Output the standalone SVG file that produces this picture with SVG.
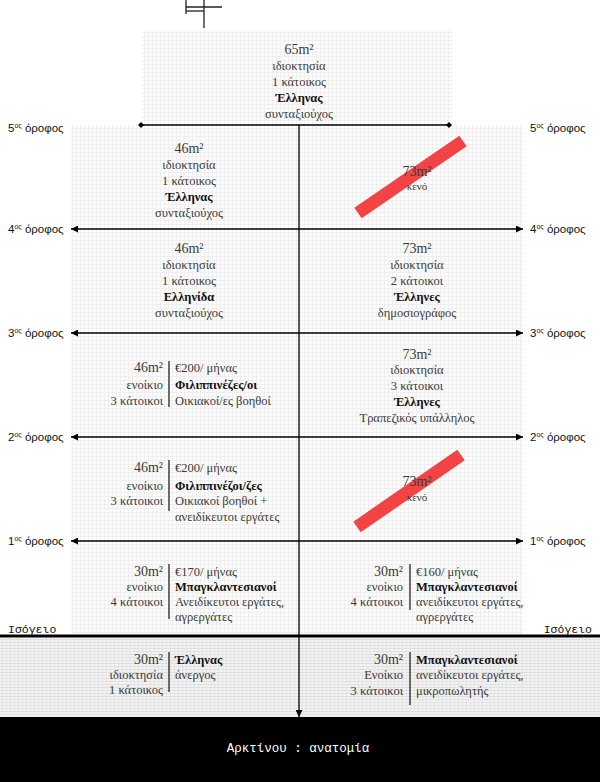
<svg xmlns="http://www.w3.org/2000/svg" width="600" height="782" viewBox="0 0 600 782">
<defs>
<pattern id="grid" width="4" height="4" patternUnits="userSpaceOnUse">
<rect width="4" height="4" fill="#fdfdfd"/>
<path d="M0 0.5H4M0.5 0V4" stroke="#efefef" stroke-width="1"/>
</pattern>
<pattern id="base" width="4" height="3" patternUnits="userSpaceOnUse">
<rect width="4" height="3" fill="#f3f3f3"/>
<path d="M0 0.5H4" stroke="#e0e0e0" stroke-width="1"/>
<rect x="2" y="1" width="1" height="2" fill="#e6e6e6"/>
</pattern>
<marker id="arr" viewBox="0 0 10 10" refX="10" refY="5" markerWidth="7" markerHeight="7" markerUnits="userSpaceOnUse" orient="auto-start-reverse">
<path d="M0 0L10 5L0 10Z" fill="#000"/>
</marker>
<marker id="dia" viewBox="0 0 10 10" refX="5" refY="5" markerWidth="6" markerHeight="6" markerUnits="userSpaceOnUse" orient="auto">
<path d="M5 0L10 5L5 10L0 5Z" fill="#000"/>
</marker>
<style>
.t{font-family:"Liberation Serif","Times New Roman",serif;font-size:12.5px;fill:#3a3a3a}
.n{font-size:14px}
.b{font-weight:bold;fill:#111}
.m{text-anchor:middle}
.e{text-anchor:end}
.s{font-size:11px}
.fl{font-family:"Liberation Sans",Arial,sans-serif;font-size:11.5px;fill:#111}
.sup{font-size:7px}
.iso{font-family:"Liberation Mono","Courier New",monospace;font-size:11.5px;fill:#111}
.ln{stroke:#000;stroke-width:1.3;fill:none}
.sep{stroke:#222;stroke-width:1.3}
.red{stroke:#f24444;stroke-width:13;stroke-linecap:butt}
</style>
</defs>

<g id="backgrounds">
<rect x="142" y="30" width="310" height="95" fill="url(#grid)"/>
<rect x="71" y="125" width="452" height="511" fill="url(#grid)"/>
<rect x="0" y="638" width="600" height="79" fill="url(#base)"/>
</g>

<g id="antenna" stroke="#222" stroke-width="1.3">
<line x1="204" y1="0" x2="204" y2="28"/>
<line x1="186" y1="0" x2="186" y2="14"/>
<line x1="186" y1="7" x2="222" y2="7"/>
<line x1="186" y1="11" x2="204" y2="11"/>
</g>

<g id="connectors">
<line class="ln" x1="141" y1="125" x2="449" y2="125" marker-start="url(#dia)" marker-end="url(#dia)"/>
<line class="ln" x1="71" y1="229" x2="523" y2="229" marker-start="url(#arr)" marker-end="url(#arr)"/>
<line class="ln" x1="71" y1="333" x2="523" y2="333" marker-start="url(#arr)" marker-end="url(#arr)"/>
<line class="ln" x1="71" y1="437" x2="523" y2="437" marker-start="url(#arr)" marker-end="url(#arr)"/>
<line class="ln" x1="71" y1="541" x2="523" y2="541" marker-start="url(#arr)" marker-end="url(#arr)"/>
<line x1="0" y1="636" x2="600" y2="636" stroke="#000" stroke-width="3"/>
<line class="ln" x1="299" y1="125" x2="299" y2="717" marker-end="url(#arr)"/>
</g>

<g id="floor-labels">
<text class="fl" x="8" y="132">5<tspan class="sup" dy="-4">ος</tspan><tspan dy="4"> όροφος</tspan></text>
<text class="fl" x="530" y="132">5<tspan class="sup" dy="-4">ος</tspan><tspan dy="4"> όροφος</tspan></text>
<text class="fl" x="8" y="233">4<tspan class="sup" dy="-4">ος</tspan><tspan dy="4"> όροφος</tspan></text>
<text class="fl" x="530" y="233">4<tspan class="sup" dy="-4">ος</tspan><tspan dy="4"> όροφος</tspan></text>
<text class="fl" x="8" y="337">3<tspan class="sup" dy="-4">ος</tspan><tspan dy="4"> όροφος</tspan></text>
<text class="fl" x="530" y="337">3<tspan class="sup" dy="-4">ος</tspan><tspan dy="4"> όροφος</tspan></text>
<text class="fl" x="8" y="441">2<tspan class="sup" dy="-4">ος</tspan><tspan dy="4"> όροφος</tspan></text>
<text class="fl" x="530" y="441">2<tspan class="sup" dy="-4">ος</tspan><tspan dy="4"> όροφος</tspan></text>
<text class="fl" x="8" y="545">1<tspan class="sup" dy="-4">ος</tspan><tspan dy="4"> όροφος</tspan></text>
<text class="fl" x="530" y="545">1<tspan class="sup" dy="-4">ος</tspan><tspan dy="4"> όροφος</tspan></text>
<text class="iso" x="8" y="633">Ισόγειο</text>
<text class="iso e" x="592" y="633">Ισόγειο</text>
</g>

<g id="apt-6">
<text class="t n m" x="299" y="54">65m²</text>
<text class="t m" x="299" y="70">ιδιοκτησία</text>
<text class="t m" x="299" y="86">1 κάτοικος</text>
<text class="t m b" x="299" y="102">Έλληνας</text>
<text class="t m" x="299" y="118">συνταξιούχος</text>
</g>

<g id="apt-5-left">
<text class="t n m" x="189" y="153">46m²</text>
<text class="t m" x="189" y="169">ιδιοκτησία</text>
<text class="t m" x="189" y="185">1 κάτοικος</text>
<text class="t m b" x="189" y="201">Έλληνας</text>
<text class="t m" x="189" y="217">συνταξιούχος</text>
</g>

<g id="apt-5-right">
<line class="red" x1="358" y1="213" x2="463" y2="141"/>
<text class="t n m" x="417" y="176">73m²</text>
<text class="t m s" x="417" y="190">κενό</text>
</g>

<g id="apt-4-left">
<text class="t n m" x="189" y="253">46m²</text>
<text class="t m" x="189" y="269">ιδιοκτησία</text>
<text class="t m" x="189" y="285">1 κάτοικος</text>
<text class="t m b" x="189" y="301">Ελληνίδα</text>
<text class="t m" x="189" y="317">συνταξιούχος</text>
</g>

<g id="apt-4-right">
<text class="t n m" x="417" y="253">73m²</text>
<text class="t m" x="417" y="269">ιδιοκτησία</text>
<text class="t m" x="417" y="285">2 κάτοικοι</text>
<text class="t m b" x="417" y="301">Έλληνες</text>
<text class="t m" x="417" y="317">δημοσιογράφος</text>
</g>

<g id="apt-3-left">
<text class="t n e" x="163" y="372">46m²</text>
<text class="t e" x="163" y="389">ενοίκιο</text>
<text class="t e" x="163" y="405">3 κάτοικοι</text>
<line class="sep" x1="169" y1="361" x2="169" y2="407"/>
<text class="t" x="175" y="372">€200/ μήνας</text>
<text class="t b" x="175" y="389">Φιλιππινέζες/οι</text>
<text class="t" x="175" y="405">Οικιακοί/ες βοηθοί</text>
</g>

<g id="apt-3-right">
<text class="t n m" x="417" y="359">73m²</text>
<text class="t m" x="417" y="374">ιδιοκτησία</text>
<text class="t m" x="417" y="390">3 κάτοικοι</text>
<text class="t m b" x="417" y="406">Έλληνες</text>
<text class="t m" x="417" y="422">Τραπεζικός υπάλληλος</text>
</g>

<g id="apt-2-left">
<text class="t n e" x="163" y="472">46m²</text>
<text class="t e" x="163" y="490">ενοίκιο</text>
<text class="t e" x="163" y="505">3 κάτοικοι</text>
<line class="sep" x1="169" y1="460" x2="169" y2="511"/>
<text class="t" x="175" y="472">€200/ μήνας</text>
<text class="t b" x="175" y="490">Φιλιππινέζοι/ζες</text>
<text class="t" x="175" y="505">Οικιακοί βοηθοί +</text>
<text class="t" x="175" y="521">ανειδίκευτοι εργάτες</text>
</g>

<g id="apt-2-right">
<line class="red" x1="357" y1="527" x2="461" y2="455"/>
<text class="t n m" x="417" y="486">73m²</text>
<text class="t m s" x="417" y="501">κενό</text>
</g>

<g id="apt-1-left">
<text class="t n e" x="163" y="576">30m²</text>
<text class="t e" x="163" y="591">ενοίκιο</text>
<text class="t e" x="163" y="606">4 κάτοικοι</text>
<line class="sep" x1="169" y1="564" x2="169" y2="619"/>
<text class="t" x="175" y="576">€170/ μήνας</text>
<text class="t b" x="175" y="591">Μπαγκλαντεσιανοί</text>
<text class="t" x="175" y="606">Ανειδίκευτοι εργάτες,</text>
<text class="t" x="175" y="621">αγρεργάτες</text>
</g>

<g id="apt-1-right">
<text class="t n e" x="403" y="576">30m²</text>
<text class="t e" x="403" y="591">ενοίκιο</text>
<text class="t e" x="403" y="606">4 κάτοικοι</text>
<line class="sep" x1="410" y1="564" x2="410" y2="610"/>
<text class="t" x="416" y="576">€160/ μήνας</text>
<text class="t b" x="416" y="591">Μπαγκλαντεσιανοί</text>
<text class="t" x="416" y="606">ανειδίκευτοι εργάτες,</text>
<text class="t" x="416" y="621">αγρεργάτες</text>
</g>

<g id="apt-0-left">
<text class="t n e" x="163" y="664">30m²</text>
<text class="t e" x="163" y="679">ιδιοκτησία</text>
<text class="t e" x="163" y="694">1 κάτοικος</text>
<line class="sep" x1="169" y1="652" x2="169" y2="692"/>
<text class="t b" x="175" y="664">Έλληνας</text>
<text class="t" x="175" y="679">άνεργος</text>
</g>

<g id="apt-0-right">
<text class="t n e" x="403" y="664">30m²</text>
<text class="t e" x="403" y="679">Ενοίκιο</text>
<text class="t e" x="403" y="695">3 κάτοικοι</text>
<line class="sep" x1="410" y1="652" x2="410" y2="705"/>
<text class="t b" x="416" y="664">Μπαγκλαντεσιανοί</text>
<text class="t" x="416" y="679">ανειδίκευτοι εργάτες,</text>
<text class="t" x="416" y="695">μικροπωλητής</text>
</g>

<g id="street">
<rect x="0" y="717" width="600" height="65" fill="#000"/>
<text x="298" y="752" text-anchor="middle" font-family="'Liberation Mono','Courier New',monospace" font-size="12.5" fill="#fff">Αρκτίνου : ανατομία</text>
</g>
</svg>
